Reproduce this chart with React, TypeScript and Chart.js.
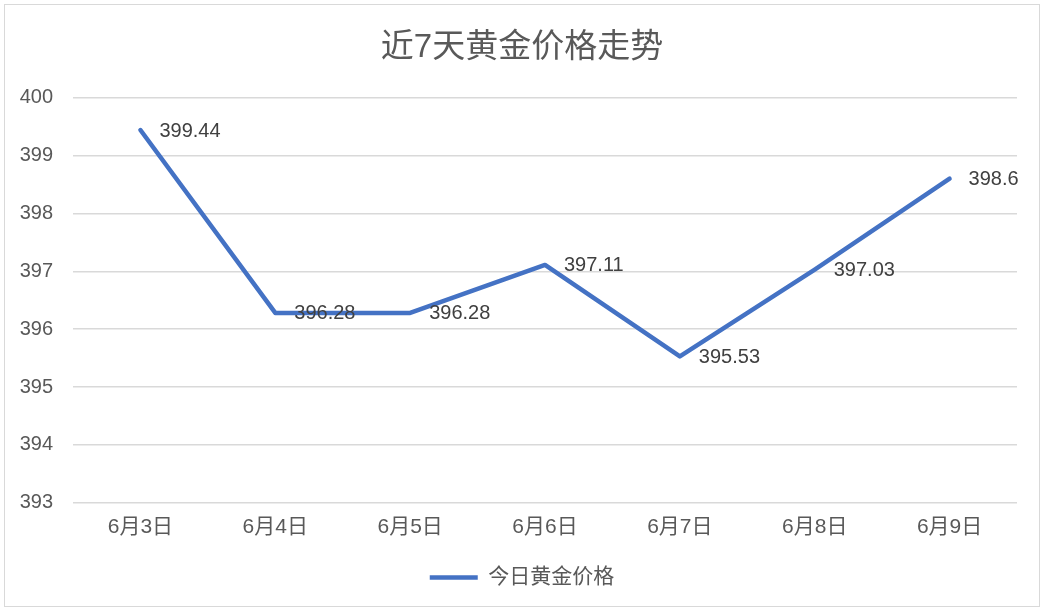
import { Chart, registerables, Plugin } from 'chart.js';
import { useEffect, useRef } from 'react';

const days = ['6月3日', '6月4日', '6月5日', '6月6日', '6月7日', '6月8日', '6月9日'];
const goldPrice = [399.44, 396.28, 396.28, 397.11, 395.53, 397.03, 398.6];
const seriesName = '今日黄金价格';
const chartTitle = '近7天黄金价格走势';

const FONT = '"Liberation Sans", "Noto Sans CJK SC", sans-serif';

// labels to the right of each point, like Excel's "right" position
const valueLabels: Plugin = {
    id: 'valueLabels',
    afterDatasetsDraw(chart) {
        const ctx = chart.ctx;
        const meta = chart.getDatasetMeta(0);
        ctx.save();
        ctx.font = `20px ${FONT}`;
        ctx.fillStyle = '#404040';
        ctx.textAlign = 'left';
        ctx.textBaseline = 'middle';
        meta.data.forEach((pt, i) => {
            ctx.fillText(String(goldPrice[i]), pt.x + 19, pt.y + 1);
        });
        ctx.restore();
    }
};

export default function App() {
    const chartEl = useRef<HTMLCanvasElement>(null);

    useEffect(() => {
        document.body.style.margin = '0';
        Chart.register(...registerables);
        const myChart = new Chart(chartEl.current as HTMLCanvasElement, {
            type: 'line',
            data: {
                labels: days,
                datasets: [{
                    label: seriesName,
                    data: goldPrice,
                    borderColor: '#4472C4',
                    backgroundColor: '#4472C4',
                    borderWidth: 4.5,
                    borderCapStyle: 'round',
                    borderJoinStyle: 'round',
                    pointRadius: 0,
                    tension: 0,
                }]
            },
            options: {
                responsive: false,
                animation: false,
                layout: { padding: { left: 0, right: 0, top: 0, bottom: 8 } },
                scales: {
                    x: {
                        offset: true,
                        grid: { display: false, drawTicks: false },
                        border: { display: false },
                        ticks: { color: '#595959', font: { family: FONT, size: 21 }, padding: 12 },
                    },
                    y: {
                        min: 393,
                        max: 400,
                        ticks: { stepSize: 1, color: '#595959', font: { family: FONT, size: 20 }, padding: 20 },
                        grid: { color: '#d9d9d9', lineWidth: 1.5, drawTicks: false },
                        border: { display: false },
                        afterFit(scale) { scale.width = 68; },
                    },
                    // empty gutter on the right of the plot
                    yRight: {
                        position: 'right',
                        grid: { display: false, drawTicks: false },
                        border: { display: false },
                        ticks: { display: false },
                        afterFit(scale) { scale.width = 22; },
                    }
                },
                plugins: {
                    title: {
                        display: true,
                        text: chartTitle,
                        color: '#595959',
                        font: { family: FONT, size: 33, weight: 'normal' },
                        padding: { top: 23, bottom: 30 },
                    },
                    legend: {
                        position: 'bottom',
                        labels: {
                            usePointStyle: true,
                            pointStyle: 'line',
                            pointStyleWidth: 48,
                            boxWidth: 48,
                            color: '#595959',
                            font: { family: FONT, size: 21 },
                            padding: 15,
                        }
                    },
                    tooltip: { enabled: false },
                }
            },
            plugins: [valueLabels]
        });

        return () => {
            myChart.destroy();
        };
    }, []);

    return (
        <div style={{ position: 'relative', width: 1046, height: 612, background: '#fff' }}>
            <div style={{ position: 'absolute', left: 4, top: 4, width: 1034, height: 601, border: '1.5px solid #d9d9d9', background: '#fff' }}>
                <canvas ref={chartEl} width={1034} height={601}></canvas>
            </div>
        </div>
    );
}
